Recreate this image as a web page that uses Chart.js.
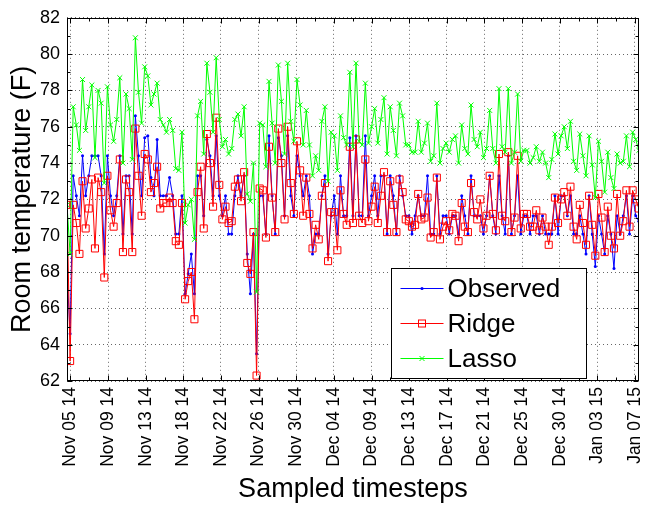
<!DOCTYPE html>
<html>
<head>
<meta charset="utf-8">
<title>Room temperature predictions</title>
<script src="https://cdn.jsdelivr.net/npm/chart.js@4"></script>
<style>
  html, body { margin: 0; padding: 0; background: #fff; }
  canvas { display: block; }
</style>
</head>
<body>
<canvas id="tempChart" width="662" height="506"></canvas>
<script>
// Room temperature: observed values against ridge and lasso predictions

var TICK_LABELS = ['Nov 05 14', 'Nov 09 14', 'Nov 13 14', 'Nov 18 14', 'Nov 22 14', 'Nov 26 14',
  'Nov 30 14', 'Dec 04 14', 'Dec 09 14', 'Dec 13 14', 'Dec 17 14', 'Dec 21 14', 'Dec 25 14',
  'Dec 30 14', 'Jan 03 15', 'Jan 07 15'];
var TICK_FIRST = 1.1;   // sample index of the first labelled timestep
var TICK_STEP = 12.11;  // samples between labelled timesteps

var OBSERVED = [
  68.0, 64.6, 73.3, 72.2, 71.1, 74.4, 72.2, 73.3, 74.4, 74.4, 74.4, 73.3, 69.0, 74.4, 72.2, 71.1, 72.2, 74.4, 70.1, 73.3, 73.3, 70.1, 76.6, 74.4,
  72.2, 75.4, 75.5, 73.2, 72.2, 75.3, 72.2, 72.2, 72.2, 73.2, 72.2, 70.1, 70.1, 72.2, 66.8, 67.9, 69.0, 66.8, 73.3, 73.3, 71.1, 75.3, 74.4,
  72.2, 75.5, 72.2, 71.1, 72.2, 70.1, 70.1, 72.2, 73.3, 72.2, 73.3, 69.0, 66.8, 70.1, 63.5, 72.2, 72.2, 70.1, 75.5, 72.2, 70.1, 75.4, 74.4, 71.1,
  75.5, 72.2, 71.1, 74.4, 73.3, 72.2, 73.3, 72.2, 69.0, 70.1, 70.1, 72.2, 73.3, 69.0, 71.1, 72.2, 70.1, 73.3, 71.1, 71.1, 75.4, 71.1,
  75.5, 71.1, 71.1, 75.5, 71.1, 72.2, 73.3, 71.1, 73.3, 73.3, 70.1, 73.3, 72.2, 70.1, 73.3, 72.2, 71.1, 71.1, 70.1, 71.1, 72.2, 71.1,
  71.1, 73.3, 70.1, 70.1, 73.3, 70.1, 71.1, 71.1, 70.1, 71.1, 71.1, 70.1, 72.2, 71.1, 70.1, 73.3, 71.1, 71.1, 71.1, 70.1, 71.1, 73.3, 71.1, 70.1,
  73.3, 71.1, 70.1, 74.4, 70.1, 71.1, 73.3, 70.1, 71.1, 71.1, 70.1, 71.1, 71.1, 70.1, 71.1, 70.1, 70.1, 70.1, 72.2, 70.1, 72.2, 72.2,
  71.1, 72.2, 70.1, 70.1, 71.1, 70.1, 69.0, 72.2, 70.1, 68.3, 71.1, 70.1, 69.0, 71.1, 70.1, 68.2, 71.1, 70.1, 71.1, 72.2, 70.1, 72.2, 71.1, 70.8
];

var RIDGE = [
  71.7, 63.1, 71.7, 70.7, 69.0, 73.0, 70.4, 71.5, 73.1, 69.3, 73.2, 72.4, 67.7, 73.3, 71.4, 70.5, 71.8, 74.2, 69.1, 73.1, 72.4, 69.1, 75.9, 73.3,
  71.1, 74.5, 74.2, 72.4, 72.9, 73.8, 71.5, 71.8, 71.8, 72.1, 71.8, 69.7, 69.5, 71.8, 66.5, 67.5, 68.0, 65.4, 72.4, 73.8, 70.4, 75.6, 74.0,
  71.6, 76.5, 72.8, 70.9, 71.6, 70.7, 70.8, 72.7, 73.1, 71.9, 73.5, 68.5, 67.9, 70.2, 62.3, 72.6, 72.5, 69.9, 74.9, 72.1, 70.2, 75.9, 74.0, 70.9,
  76.0, 72.9, 71.2, 75.2, 73.6, 71.1, 73.2, 71.2, 69.3, 70.6, 69.8, 72.2, 72.9, 68.6, 71.3, 71.3, 69.2, 72.5, 71.2, 70.6, 74.9, 70.7,
  75.3, 71.1, 70.7, 74.2, 70.8, 71.6, 72.7, 70.7, 72.2, 73.5, 70.2, 73.0, 71.7, 70.2, 73.1, 72.4, 70.9, 70.8, 70.5, 70.6, 72.3, 70.9,
  71.0, 72.1, 69.9, 70.2, 73.2, 69.8, 70.5, 70.8, 70.3, 71.2, 71.1, 69.7, 71.8, 70.5, 70.2, 72.9, 71.3, 70.9, 72.0, 70.4, 71.1, 73.3, 71.2, 70.3,
  74.5, 71.1, 70.8, 74.6, 70.2, 71.0, 74.4, 70.4, 71.2, 71.2, 70.5, 70.5, 71.4, 70.3, 71.0, 70.5, 69.5, 70.5, 72.1, 70.7, 72.0, 72.4,
  71.1, 72.7, 70.5, 69.8, 71.7, 70.7, 69.5, 72.2, 70.6, 68.9, 72.3, 71.0, 69.1, 71.6, 70.0, 69.3, 72.3, 70.0, 70.8, 72.5, 70.5, 72.5, 72.0, 71.5
];

var LASSO = [
  71.7, 69.0, 77.1, 76.1, 74.7, 78.6, 75.8, 77.1, 78.3, 74.3, 78.0, 77.3, 72.9, 78.2, 76.1, 75.2, 76.4, 78.7, 74.0, 77.8, 77.0, 74.2, 80.9, 77.9,
  76.2, 79.3, 78.8, 77.2, 77.8, 78.4, 76.4, 76.1, 75.7, 76.4, 75.8, 73.7, 73.6, 75.7, 70.7, 71.7, 72.0, 69.8, 76.6, 77.4, 74.5, 79.5, 77.9,
  75.7, 79.8, 76.4, 74.9, 75.3, 74.5, 74.8, 76.4, 76.7, 75.5, 77.1, 72.3, 71.9, 74.0, 66.9, 76.2, 76.1, 73.8, 78.5, 76.2, 74.0, 79.4, 77.4, 74.5,
  79.5, 76.3, 75.2, 78.6, 77.2, 75.0, 76.9, 75.0, 73.3, 74.4, 73.6, 76.3, 77.1, 73.0, 75.7, 75.5, 73.6, 76.6, 75.4, 75.0, 79.0, 74.9,
  79.5, 75.2, 75.0, 78.4, 75.1, 76.0, 77.0, 75.1, 76.4, 77.6, 74.5, 77.1, 75.8, 74.4, 77.3, 76.6, 75.0, 75.0, 74.6, 74.6, 76.3, 74.6,
  75.1, 76.2, 74.1, 74.4, 77.3, 74.0, 74.8, 75.1, 74.6, 75.3, 75.5, 74.0, 76.1, 74.8, 74.5, 77.2, 75.3, 74.9, 75.7, 74.3, 74.8, 76.9, 74.8, 74.0,
  78.1, 74.9, 74.6, 78.1, 74.0, 74.6, 77.8, 74.1, 74.7, 74.7, 74.0, 74.3, 74.9, 74.1, 74.6, 74.0, 73.2, 74.2, 75.6, 74.5, 75.5, 76.0,
  74.8, 76.3, 74.1, 73.6, 75.6, 74.4, 73.3, 75.5, 73.9, 72.1, 75.2, 74.1, 72.4, 74.6, 73.2, 72.6, 74.5, 74.0, 74.1, 75.5, 73.8, 75.7, 75.3, 74.7
];

var FONT = "'Liberation Sans', Arial, Helvetica, sans-serif";

/**
 * Turn a list of readings into {x, y} points keyed by sample index
 * @param {number[]} values - one reading per timestep
 */
function toPoints(values) {
  return values.map(function (v, i) {
    return { x: i, y: v };
  });
}

/**
 * Plugin drawing the boxed axes with inward ticks, like a MATLAB figure
 */
var axesFrame = {
  id: 'axesFrame',
  afterDatasetsDraw: function (chart) {
    var ctx = chart.ctx;
    var area = chart.chartArea;
    var xs = chart.scales.x;
    var ys = chart.scales.y;
    var left = Math.round(area.left) + 0.5;
    var right = Math.round(area.right) - 0.5;
    var top = Math.round(area.top) + 0.5;
    var bottom = Math.round(area.bottom) - 0.5;

    ctx.save();
    ctx.strokeStyle = '#000';
    ctx.lineWidth = 1;
    ctx.beginPath();

    // x ticks: long at labels, short half way between
    xs.ticks.forEach(function (t, k) {
      var px = Math.round(xs.getPixelForValue(t.value)) + 0.5;
      ctx.moveTo(px, bottom); ctx.lineTo(px, bottom - 5);
      ctx.moveTo(px, top); ctx.lineTo(px, top + 5);
      if (k < xs.ticks.length - 1) {
        var mid = Math.round(xs.getPixelForValue(t.value + TICK_STEP / 2)) + 0.5;
        ctx.moveTo(mid, bottom); ctx.lineTo(mid, bottom - 3);
        ctx.moveTo(mid, top); ctx.lineTo(mid, top + 3);
      }
    });

    // y ticks every degree, longer on the labelled ones
    for (var v = ys.min; v <= ys.max; v++) {
      var py = Math.round(ys.getPixelForValue(v)) + 0.5;
      var len = v % 2 === 0 ? 5 : 3;
      ctx.moveTo(left, py); ctx.lineTo(left + len, py);
      ctx.moveTo(right, py); ctx.lineTo(right - len, py);
    }
    ctx.stroke();

    ctx.strokeRect(left, top, right - left, bottom - top);
    ctx.restore();
  },

  afterDraw: function (chart) {
    var ctx = chart.ctx;
    var area = chart.chartArea;
    var boxW = 195;
    var boxH = 110;
    var bx = Math.round(area.right) - 53 - boxW + 0.5;
    var by = Math.round(area.bottom) - 3 - boxH + 0.5;

    ctx.save();
    ctx.fillStyle = '#fff';
    ctx.fillRect(bx, by, boxW, boxH);
    ctx.strokeStyle = '#000';
    ctx.lineWidth = 1;
    ctx.strokeRect(bx, by, boxW, boxH);

    chart.data.datasets.forEach(function (ds, k) {
      var row = by + 20 + k * 35;
      var x0 = bx + 9;
      var x1 = bx + 52;
      var cx = (x0 + x1) / 2;
      ctx.strokeStyle = ds.borderColor;
      ctx.fillStyle = ds.borderColor;
      ctx.lineWidth = 1;
      ctx.beginPath();
      ctx.moveTo(x0, row);
      ctx.lineTo(x1, row);
      ctx.stroke();
      if (ds.pointStyle === 'rect') {
        ctx.strokeRect(cx - 3.5, row - 3.5, 7, 7);
      } else if (ds.pointStyle === 'crossRot') {
        ctx.beginPath();
        ctx.moveTo(cx - 2.5, row - 2.5); ctx.lineTo(cx + 2.5, row + 2.5);
        ctx.moveTo(cx - 2.5, row + 2.5); ctx.lineTo(cx + 2.5, row - 2.5);
        ctx.stroke();
      } else {
        ctx.beginPath();
        ctx.arc(cx, row, 1.6, 0, Math.PI * 2);
        ctx.fill();
      }
      ctx.fillStyle = '#000';
      ctx.font = '26px ' + FONT;
      ctx.textBaseline = 'middle';
      ctx.textAlign = 'left';
      ctx.fillText(ds.label, bx + 56, row + 1);
    });
    ctx.restore();
  }
};

var ctx = document.getElementById('tempChart').getContext('2d');
var chart = new Chart(ctx, {
  type: 'line',
  data: {
    datasets: [
      {
        label: 'Observed',
        data: toPoints(OBSERVED),
        borderColor: '#0000ff',
        backgroundColor: '#0000ff',
        borderWidth: 1,
        pointStyle: 'circle',
        pointRadius: 1.5,
        pointBorderWidth: 0,
        order: 3
      },
      {
        label: 'Ridge',
        data: toPoints(RIDGE),
        borderColor: '#ff0000',
        backgroundColor: 'rgba(0,0,0,0)',
        borderWidth: 1,
        pointStyle: 'rect',
        pointRadius: 5,
        pointBorderWidth: 1,
        order: 2
      },
      {
        label: 'Lasso',
        data: toPoints(LASSO),
        borderColor: '#00ff00',
        backgroundColor: 'rgba(0,0,0,0)',
        borderWidth: 1,
        pointStyle: 'crossRot',
        pointRadius: 3.5,
        pointBorderWidth: 1,
        order: 1
      }
    ]
  },
  options: {
    responsive: false,
    animation: false,
    events: [],
    tension: 0,
    layout: { padding: { top: 15, right: 1, left: 0, bottom: 0 } },
    plugins: {
      legend: { display: false },
      tooltip: { enabled: false }
    },
    scales: {
      x: {
        type: 'linear',
        min: 0,
        max: OBSERVED.length - 1,
        afterBuildTicks: function (scale) {
          scale.ticks = TICK_LABELS.map(function (label, k) {
            return { value: TICK_FIRST + k * TICK_STEP };
          });
        },
        afterFit: function (scale) {
          scale.height = 125;
        },
        ticks: {
          autoSkip: false,
          minRotation: 90,
          maxRotation: 90,
          padding: 6,
          color: '#000',
          font: { family: FONT, size: 17.5 },
          callback: function (value, index) {
            return TICK_LABELS[index];
          }
        },
        grid: { color: 'rgba(0,0,0,0.6)', drawTicks: false, lineWidth: 1 },
        border: { display: false, dash: [1, 3] },
        title: {
          display: true,
          text: 'Sampled timesteps',
          color: '#000',
          font: { family: FONT, size: 27 },
          padding: { top: 2, bottom: 0 }
        }
      },
      y: {
        min: 62,
        max: 82,
        afterFit: function (scale) {
          scale.width = 67;
        },
        ticks: {
          stepSize: 2,
          padding: 7,
          color: '#000',
          font: { family: FONT, size: 18 }
        },
        grid: { color: 'rgba(0,0,0,0.6)', drawTicks: false, lineWidth: 1 },
        border: { display: false, dash: [1, 3] },
        title: {
          display: true,
          text: 'Room temperature (F)',
          color: '#000',
          font: { family: FONT, size: 27 },
          padding: { top: 6, bottom: 0 }
        }
      }
    }
  },
  plugins: [axesFrame]
});
</script>
</body>
</html>
